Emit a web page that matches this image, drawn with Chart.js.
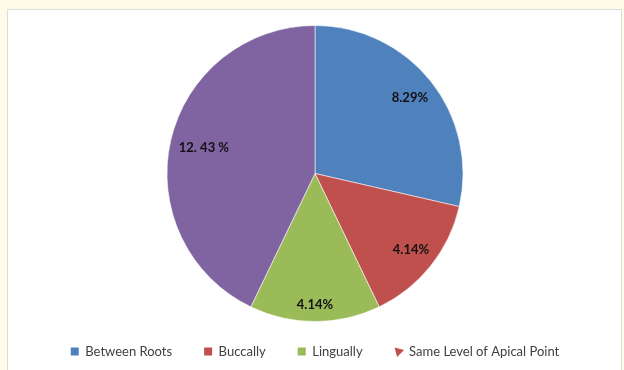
<!DOCTYPE html>
<html>
<head>
<meta charset="utf-8">
<script src="https://cdn.jsdelivr.net/npm/chart.js@4/dist/chart.umd.min.js"></script>
<style>
    html, body { margin: 0; padding: 0; background: #fffbe9; }
    #frame {
        position: absolute; left: 7px; top: 9px; width: 613px; height: 370px;
        background: #ffffff; border: 1px solid #dcdcdc;
    }
    #wrap { position: absolute; left: 0; top: 0; width: 624px; height: 370px; }
</style>
</head>
<body>
<div id="frame"></div>
<div id="wrap"><canvas id="pie"></canvas></div>
<script>
const categories = ['Between Roots', 'Buccally', 'Lingually', 'Same Level of Apical Point'];
const values = [8.29, 4.14, 4.14, 12.43];
const valueLabels = ['8.29%', '4.14%', '4.14%', '12. 43 %'];
const colors = ['#4f81bd', '#c0504d', '#9bbb59', '#8064a2'];

// where each percent sits, as a share of the radius
const labelRadius = [0.82, 0.83, 0.89, 0.77];

const sliceLabels = {
    id: 'sliceLabels',
    afterDatasetsDraw(chart) {
        const ctx = chart.ctx;
        const arcs = chart.getDatasetMeta(0).data;
        ctx.save();
        ctx.font = 'bold 13px Lato';
        ctx.fillStyle = '#111111';
        ctx.textAlign = 'center';
        ctx.textBaseline = 'middle';
        arcs.forEach((arc, i) => {
            const p = arc.getProps(['x', 'y', 'startAngle', 'endAngle', 'outerRadius'], true);
            const mid = (p.startAngle + p.endAngle) / 2;
            const r = p.outerRadius * labelRadius[i];
            ctx.fillText(valueLabels[i], p.x + Math.cos(mid) * r, p.y + Math.sin(mid) * r);
        });
        ctx.restore();
    }
};

new Chart(document.getElementById('pie'), {
    type: 'pie',
    data: {
        labels: categories,
        datasets: [{
            data: values,
            backgroundColor: colors,
            borderColor: 'rgba(255,255,255,0.55)',
            borderWidth: 1
        }]
    },
    options: {
        responsive: true,
        maintainAspectRatio: false,
        animation: false,
        radius: 148,
        layout: { padding: { left: 6, top: 34, bottom: 2 } },
        plugins: {
            tooltip: { enabled: false },
            legend: {
                position: 'bottom',
                labels: {
                    usePointStyle: true,
                    boxWidth: 8,
                    boxHeight: 8,
                    padding: 32,
                    color: '#404040',
                    font: { family: 'Lato', size: 13 },
                    generateLabels(chart) {
                        const items = Chart.controllers.pie.overrides.plugins.legend.labels.generateLabels(chart);
                        items.forEach((item, i) => {
                            item.lineWidth = 0;
                            item.pointStyle = 'rect';
                            if (i === 3) {
                                // the reference shows a red flag marker here
                                item.fillStyle = colors[1];
                                item.pointStyle = 'triangle';
                                item.rotation = 195;
                            }
                        });
                        return items;
                    }
                }
            }
        }
    },
    plugins: [sliceLabels]
});
</script>
</body>
</html>
